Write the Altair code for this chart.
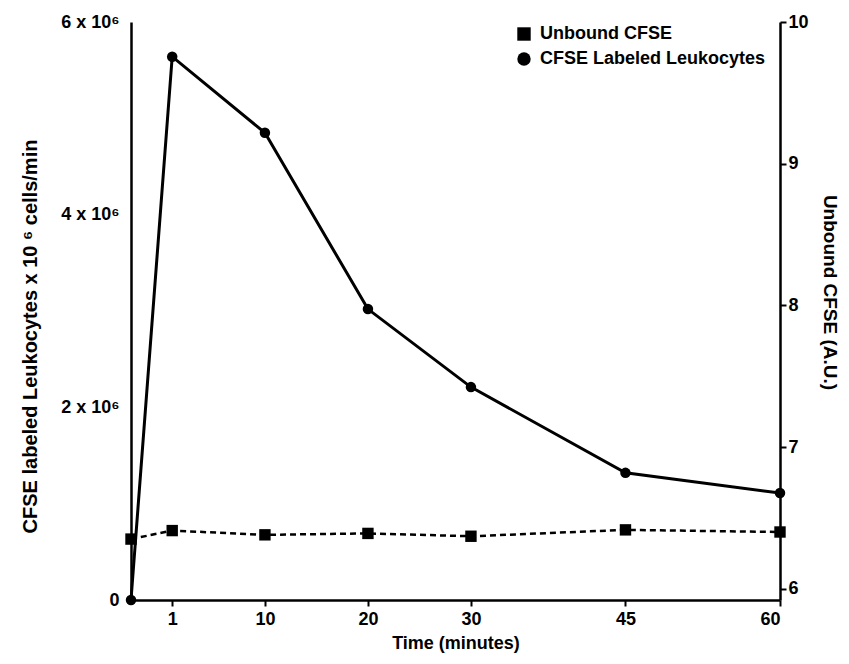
import altair as alt
import pandas as pd

# ---- data ----
time_min = [-3, 1, 10, 20, 30, 45, 60]
leukocytes = [0, 5.64e6, 4.85e6, 3.02e6, 2.21e6, 1.32e6, 1.11e6]
unbound_cfse = [6.35, 6.41, 6.38, 6.39, 6.37, 6.415, 6.40]
x_ticks = [1, 10, 20, 30, 45, 60]
left_ticks = [0, 2e6, 4e6, 6e6]
right_ticks = [6, 7, 8, 9, 10]
series_names = ["Unbound CFSE", "CFSE Labeled Leukocytes"]
series_shapes = ["square", "circle"]

df_leuk = pd.DataFrame({"time": time_min, "value": leukocytes, "series": series_names[1]})
df_unb = pd.DataFrame({"time": time_min, "value": unbound_cfse, "series": series_names[0]})

FONT = "Liberation Sans"

x_enc = alt.X(
    "time:Q",
    scale=alt.Scale(domain=[-3, 60], nice=False, zero=False),
    axis=alt.Axis(
        values=x_ticks, title="Time (minutes)", grid=False,
        domainColor="black", domainWidth=2.5, tickColor="black", tickWidth=2, tickSize=6,
        labelFont=FONT, labelFontSize=18, labelFontWeight="bold", labelColor="black",
        labelPadding=4, titleFont=FONT, titleFontSize=18, titleFontWeight="bold",
        titleColor="black", titlePadding=6,
    ),
)

shape_scale = alt.Scale(domain=series_names, range=series_shapes)
shape_enc = alt.Shape(
    "series:N", scale=shape_scale,
    legend=alt.Legend(
        title=None, orient="none", legendX=384, legendY=3, padding=0,
        labelFont=FONT, labelFontSize=18, labelFontWeight="bold", labelColor="black",
        labelLimit=400,
        symbolSize=180, symbolFillColor="black", symbolStrokeColor="black",
        symbolStrokeWidth=0, labelOffset=7, rowPadding=7,
    ),
)

left_y = alt.Y(
    "value:Q",
    scale=alt.Scale(domain=[0, 6e6], nice=False),
    axis=alt.Axis(
        values=left_ticks, orient="left", grid=False, ticks=False,
        labelExpr="datum.value == 0 ? '0' : format(datum.value / 1e6, 'd') + ' x 10\u2076'",
        domainColor="black", domainWidth=2.5,
        labelFont=FONT, labelFontSize=18, labelFontWeight="bold", labelColor="black",
        labelPadding=12,
        title="CFSE labeled Leukocytes x 10 \u2076 cells/min",
        titleFont=FONT, titleFontSize=20, titleFontWeight="bold", titleColor="black",
        titleX=-101, titleY=314, titleAngle=-90, titleAlign="center", titleBaseline="middle",
    ),
)

right_y = alt.Y(
    "value:Q",
    scale=alt.Scale(domain=[5.92, 10], nice=False, zero=False),
    axis=alt.Axis(
        values=right_ticks, orient="right", grid=False,
        domainColor="black", domainWidth=2.5, tickColor="black", tickWidth=2, tickSize=6,
        labelFont=FONT, labelFontSize=18, labelFontWeight="bold", labelColor="black",
        labelPadding=2,
        title="Unbound CFSE (A.U.)",
        titleFont=FONT, titleFontSize=19, titleFontWeight="bold", titleColor="black",
        titleX=49, titleY=270, titleAngle=90, titleAlign="center", titleBaseline="middle",
    ),
)

leuk_base = alt.Chart(df_leuk).encode(x=x_enc, y=left_y)
leuk_layer = alt.layer(
    leuk_base.mark_line(color="black", strokeWidth=3),
    leuk_base.mark_point(filled=True, color="black", opacity=1, size=110).encode(shape=shape_enc),
)

unb_base = alt.Chart(df_unb).encode(x=x_enc, y=right_y)
unb_layer = alt.layer(
    unb_base.mark_line(color="black", strokeWidth=2.5, strokeDash=[6, 4]),
    unb_base.mark_point(filled=True, color="black", opacity=1, size=130).encode(shape=shape_enc),
)

chart = (
    alt.layer(leuk_layer, unb_layer)
    .resolve_scale(y="independent")
    .properties(
        width=649, height=578,
        autosize=alt.AutoSizeParams(type="none"),
        padding={"left": 123, "top": 14, "right": 61, "bottom": 54},
        background="white",
    )
    .configure_view(stroke=None)
)

chart.save("out.html", embed_options={"renderer": "svg", "actions": False})
